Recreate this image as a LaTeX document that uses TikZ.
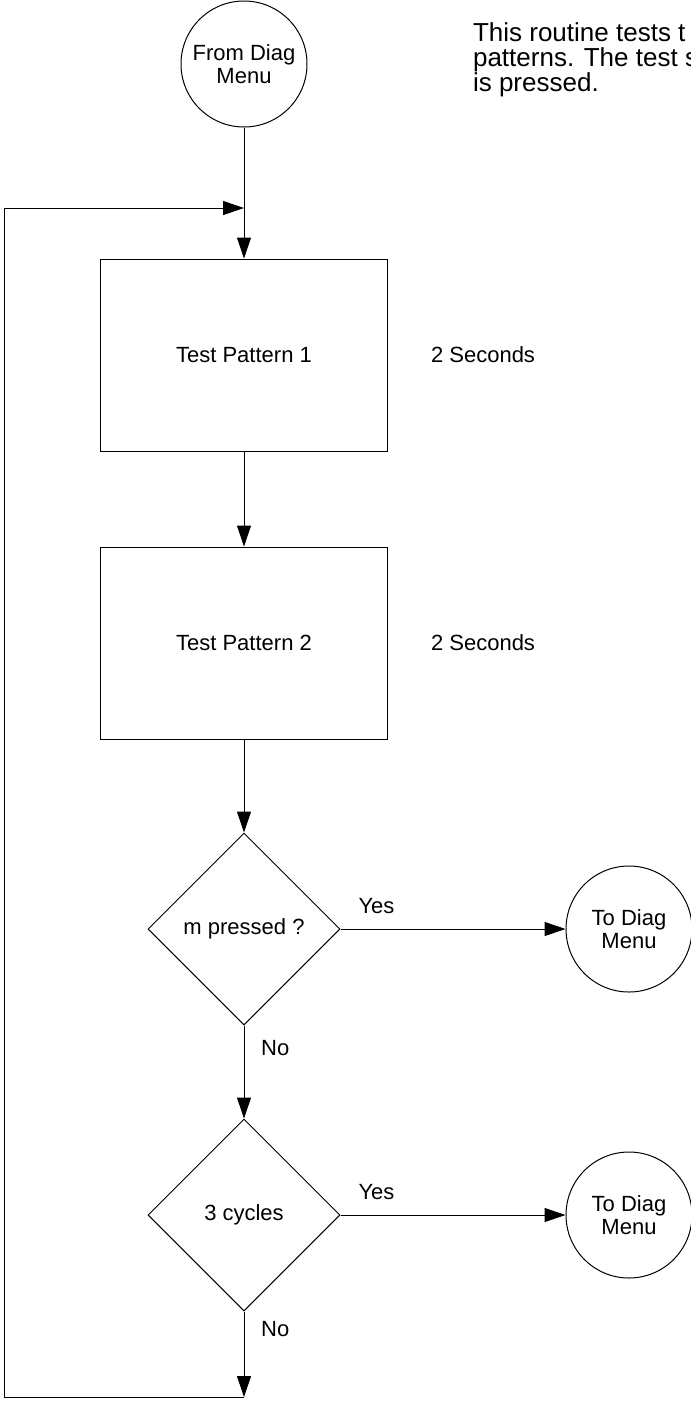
\documentclass[tikz,border=0pt]{standalone}
\usepackage{fontspec}
\setmainfont{Liberation Sans}
\usepackage{tikz}
\usetikzlibrary{positioning, arrows.meta, shapes.geometric}

\begin{document}
\begin{tikzpicture}[
        x=0.5pt, y=-0.5pt,
        font=\fontsize{11}{11.5}\selectfont,
        % Estilos de los nodos
        terminal/.style={
            circle,
            draw=black,
            line width=0.5pt,
            minimum size=63pt,
            inner sep=0pt,
            align=center
        },
        process/.style={
            rectangle,
            draw=black,
            line width=0.5pt,
            minimum width=143.5pt,
            minimum height=96pt,
            align=center
        },
        decision/.style={
            diamond,
            draw=black,
            line width=0.5pt,
            minimum width=96pt,
            minimum height=96pt,
            inner sep=0pt,
            align=center
        },
        note/.style={align=left},
        % Estilos de las flechas
        arrow/.style={-{Triangle[length=10.5pt, width=7pt]}, line width=0.5pt, color=black}
    ]

    \useasboundingbox (0,0) rectangle (691,1409);

    % -- Columna Principal --
    \node[terminal] (start) at (244,64) {From Diag\\Menu};

    \node[process, below=65.5pt of start] (tp1) {Test Pattern 1};

    \node[process, below=47.5pt of tp1] (tp2) {Test Pattern 2};

    \node[decision, below=46.5pt of tp2] (mkey) {m pressed ?};

    \node[decision, below=46.5pt of mkey] (cycles) {3 cycles};

    % -- Salidas --
    \node[terminal, right=112.5pt of mkey] (exit1) {To Diag\\Menu};

    \node[terminal, right=112.5pt of cycles] (exit2) {To Diag\\Menu};

    % -- Notas --
    \node[note, right=18pt of tp1] (sec1) {2 Seconds};
    \node[note, right=18pt of tp2] (sec2) {2 Seconds};

    \node[note, anchor=west, font=\fontsize{13}{12.5}\selectfont] (info) at (466,60)
        {This routine tests t\\patterns. The test s\\is pressed.};

    % -- Puntos del ciclo --
    \coordinate (merge) at (244,208);
    \coordinate (loopend) at (244,1397);

    % -- Conexiones de Flujo --
    \draw[arrow] (start) -- (tp1);
    \draw[arrow] (tp1) -- (tp2);
    \draw[arrow] (tp2) -- (mkey);
    \draw[arrow] (mkey) -- node[right=5pt, pos=0.24]{No} (cycles);
    \draw[arrow] (mkey) -- node[above=4pt, pos=0.16]{Yes} (exit1);
    \draw[arrow] (cycles) -- node[above=4pt, pos=0.16]{Yes} (exit2);
    \draw[arrow] (cycles) -- node[right=5pt, pos=0.21]{No} (loopend);

    % -- Retroalimentacion (Ciclo) --
    \draw[arrow] (loopend) -- ++(-240,0) |- (merge);

    \end{tikzpicture}
\end{document}
